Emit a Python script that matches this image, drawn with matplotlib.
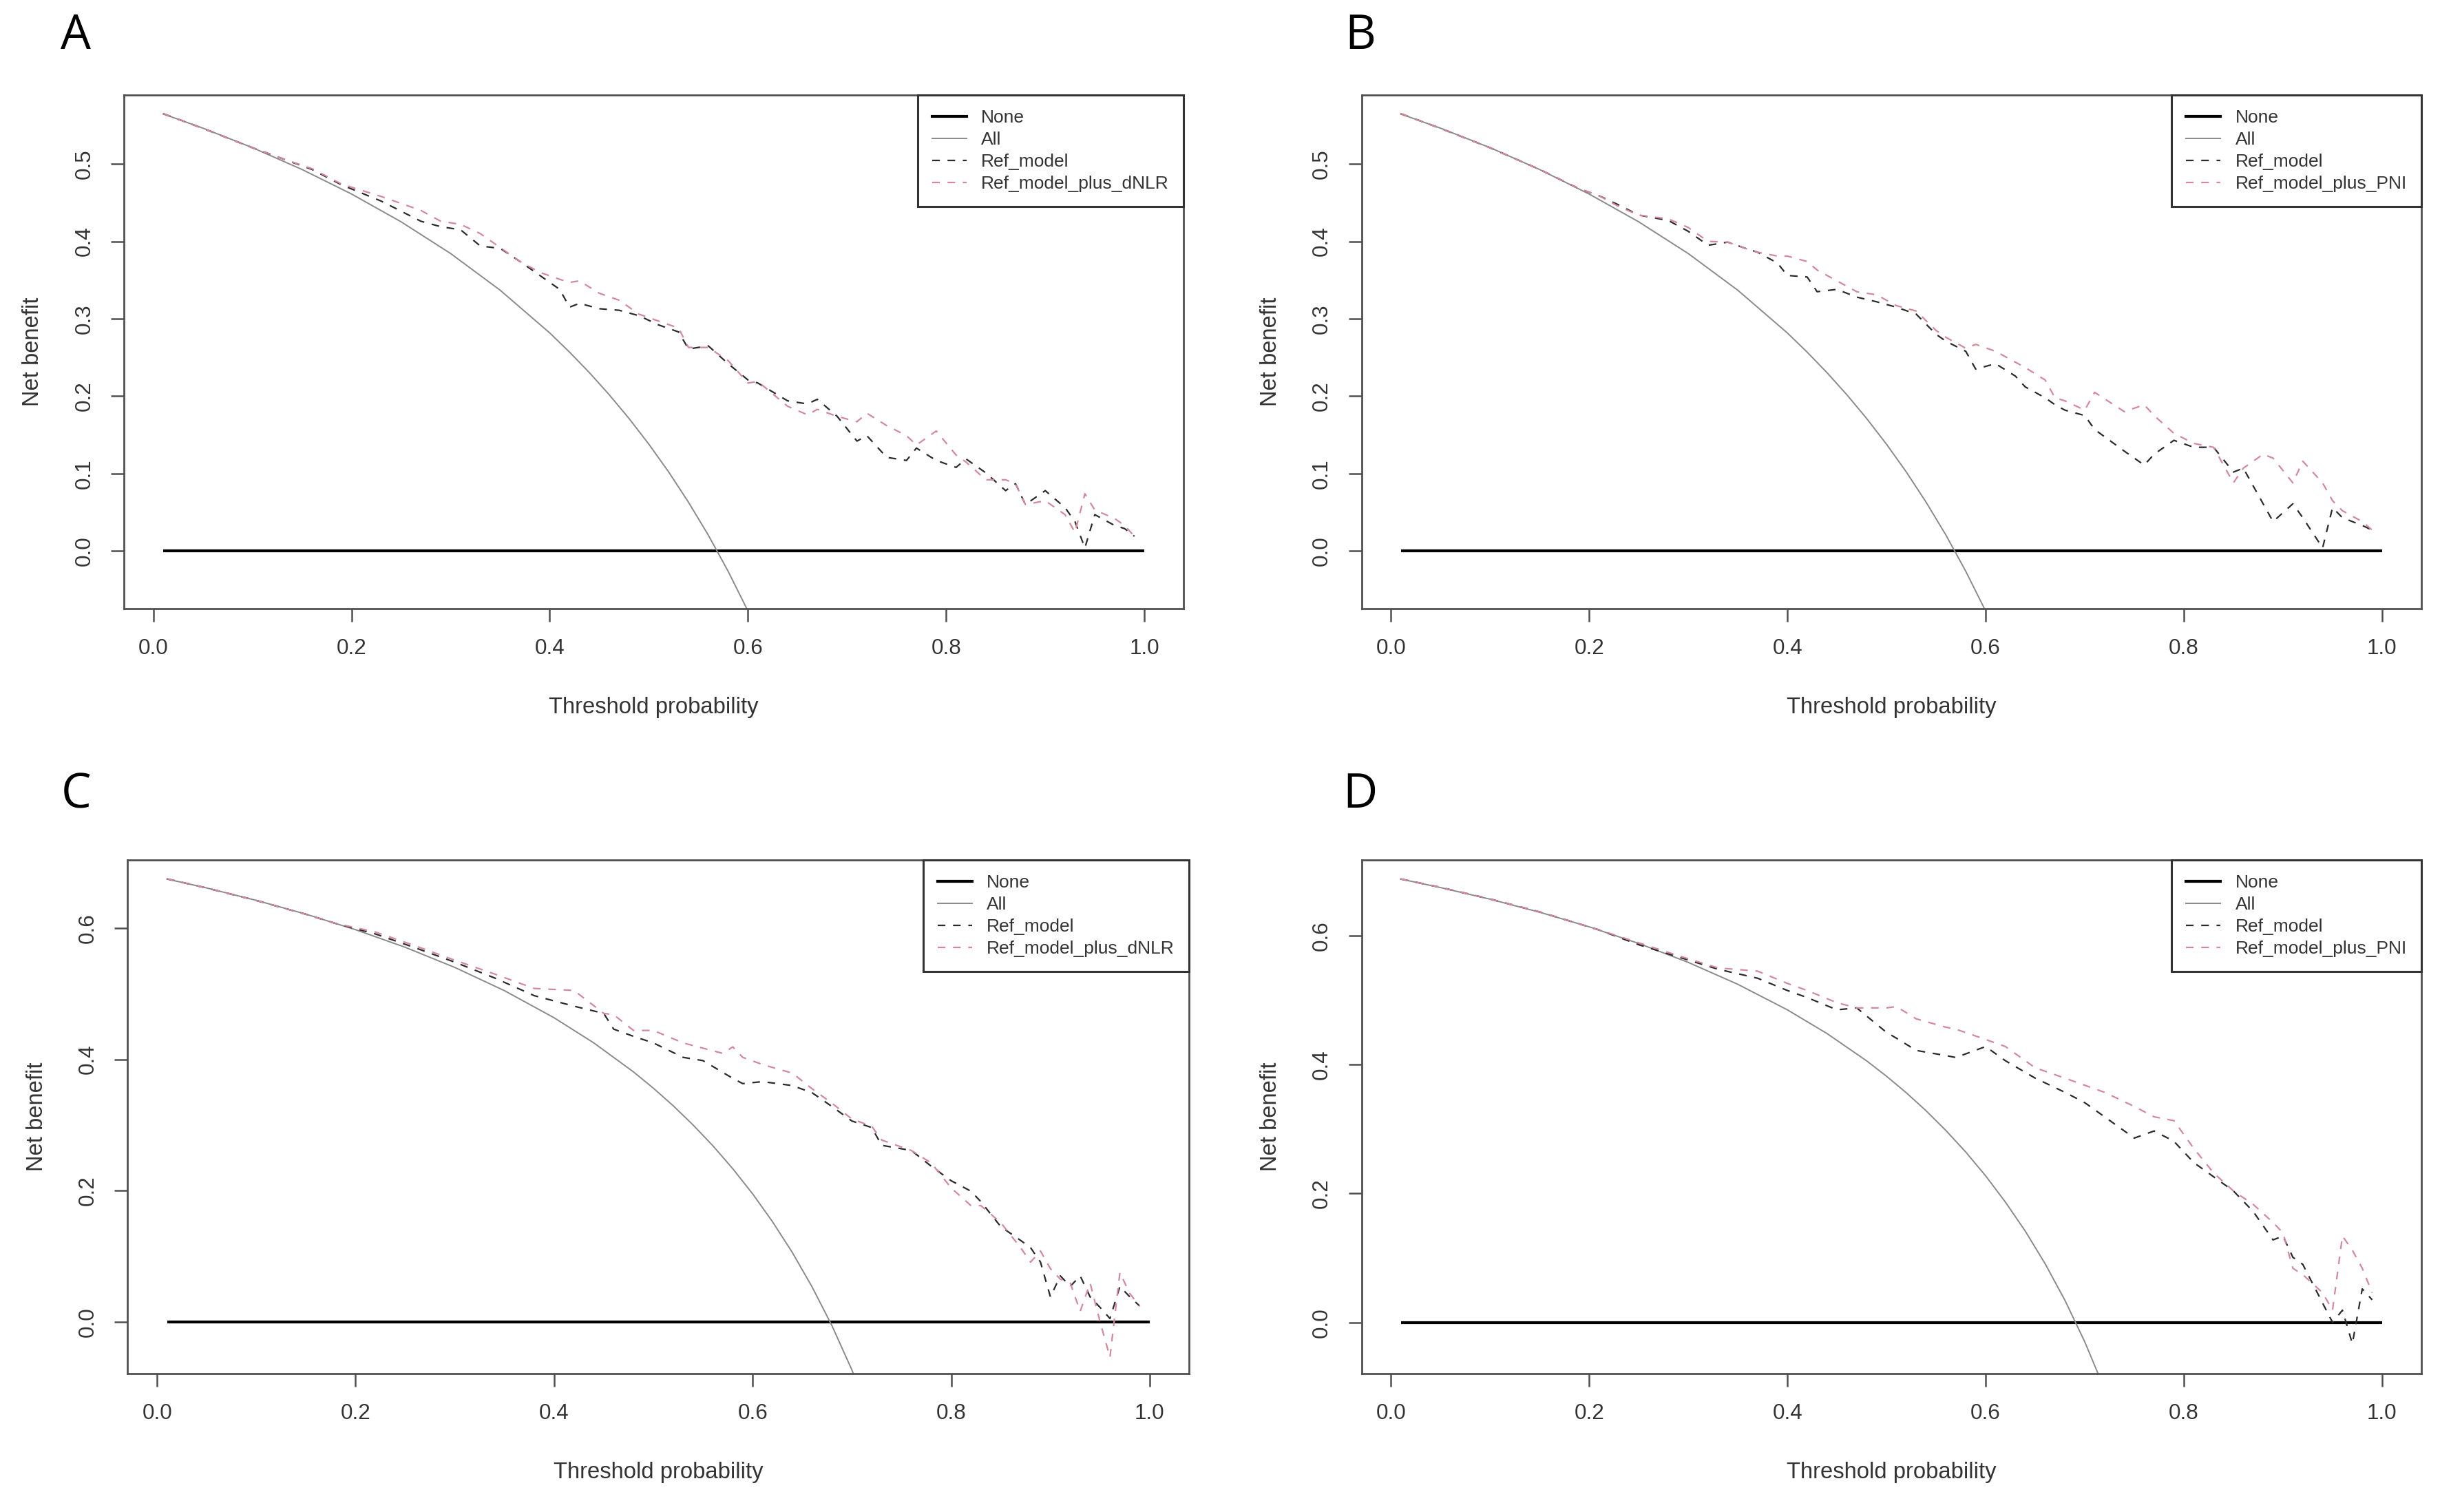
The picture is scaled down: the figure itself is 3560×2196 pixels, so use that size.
import matplotlib
matplotlib.use("Agg")
import matplotlib.pyplot as plt
from matplotlib.lines import Line2D

plt.rcParams['font.family'] = ['Liberation Sans', 'DejaVu Sans']

# ---------------- data ----------------
panel_letters = ["A", "B", "C", "D"]
legend_labels_A = ["None", "All", "Ref_model", "Ref_model_plus_dNLR"]
legend_labels_B = ["None", "All", "Ref_model", "Ref_model_plus_PNI"]
x_ticks = [0.0, 0.2, 0.4, 0.6, 0.8, 1.0]
y_ticks_top = [0.0, 0.1, 0.2, 0.3, 0.4, 0.5]
y_ticks_bottom = [0.0, 0.2, 0.4, 0.6]

none_x = [0.01, 1.0]
none_y = [0.0, 0.0]

# "All" strategy curves
all_x_AB = [0.01, 0.05, 0.10, 0.15, 0.20, 0.25, 0.30, 0.35, 0.40, 0.42, 0.44, 0.46,
            0.48, 0.50, 0.52, 0.54, 0.56, 0.58, 0.60, 0.62]
all_y_AB = [0.5646, 0.5463, 0.5211, 0.4929, 0.4612, 0.4253, 0.3843, 0.3369, 0.2817,
            0.2569, 0.2304, 0.2019, 0.1712, 0.1380, 0.1021, 0.0630, 0.0205, -0.0262,
            -0.0775, -0.1342]
all_x_CD = [0.01, 0.05, 0.10, 0.15, 0.20, 0.25, 0.30, 0.35, 0.40, 0.44, 0.48, 0.50,
            0.52, 0.54, 0.56, 0.58, 0.60, 0.62, 0.64, 0.66, 0.68, 0.70, 0.72]
all_y_C = [0.6747, 0.6611, 0.6422, 0.6212, 0.5975, 0.5707, 0.5400, 0.5046, 0.4633,
           0.4250, 0.3808, 0.3560, 0.3292, 0.3000, 0.2682, 0.2333, 0.1950, 0.1526,
           0.1056, 0.0529, -0.0062, -0.0733, -0.1500]
all_y_D = [0.6879, 0.6747, 0.6567, 0.6365, 0.6138, 0.5880, 0.5586, 0.5246, 0.4850,
           0.4482, 0.4058, 0.3820, 0.3563, 0.3283, 0.2977, 0.2643, 0.2275, 0.1866,
           0.1417, 0.0912, 0.0344, -0.0300, -0.1036]

# Panel A
thr_A = [0.01, 0.05, 0.10, 0.13, 0.16, 0.19, 0.23, 0.27, 0.29, 0.31,
         0.33, 0.35, 0.37, 0.39, 0.41, 0.42, 0.43, 0.45, 0.47, 0.49,
         0.51, 0.53, 0.54, 0.56, 0.58, 0.60, 0.61, 0.64, 0.66, 0.67,
         0.69, 0.71, 0.72, 0.74, 0.76, 0.77, 0.79, 0.81, 0.82, 0.84,
         0.86, 0.87, 0.88, 0.90, 0.92, 0.93, 0.94, 0.95, 0.97, 0.98, 0.99]
ref_A = [0.565, 0.546, 0.521, 0.507, 0.493, 0.473, 0.452, 0.426, 0.419, 0.415,
         0.394, 0.391, 0.374, 0.356, 0.338, 0.315, 0.320, 0.313, 0.311, 0.304,
         0.292, 0.283, 0.261, 0.265, 0.242, 0.221, 0.217, 0.194, 0.190, 0.196,
         0.174, 0.142, 0.149, 0.121, 0.117, 0.133, 0.117, 0.108, 0.119, 0.101,
         0.078, 0.087, 0.060, 0.078, 0.056, 0.038, 0.004, 0.047, 0.033, 0.029, 0.019]
plus_A = [0.565, 0.546, 0.521, 0.507, 0.494, 0.474, 0.458, 0.440, 0.426, 0.422,
          0.410, 0.392, 0.374, 0.360, 0.351, 0.347, 0.349, 0.333, 0.324, 0.306,
          0.297, 0.288, 0.263, 0.263, 0.246, 0.217, 0.219, 0.187, 0.176, 0.183,
          0.174, 0.167, 0.178, 0.162, 0.149, 0.137, 0.155, 0.124, 0.115, 0.092,
          0.092, 0.087, 0.060, 0.065, 0.047, 0.024, 0.074, 0.053, 0.042, 0.033, 0.019]

# Panel B
thr_B = [0.01, 0.05, 0.10, 0.15, 0.19, 0.21, 0.23, 0.25, 0.28, 0.30,
         0.32, 0.34, 0.36, 0.37, 0.39, 0.40, 0.42, 0.43, 0.45, 0.47,
         0.49, 0.51, 0.53, 0.55, 0.56, 0.58, 0.59, 0.61, 0.63, 0.64,
         0.66, 0.67, 0.68, 0.70, 0.71, 0.74, 0.76, 0.77, 0.79, 0.81,
         0.83, 0.85, 0.86, 0.88, 0.89, 0.91, 0.92, 0.94, 0.95, 0.96, 0.98, 0.99]
ref_B = [0.565, 0.546, 0.521, 0.493, 0.468, 0.459, 0.447, 0.434, 0.427, 0.413,
         0.395, 0.399, 0.390, 0.386, 0.372, 0.356, 0.354, 0.335, 0.338, 0.328,
         0.322, 0.315, 0.306, 0.280, 0.271, 0.258, 0.235, 0.242, 0.226, 0.212,
         0.198, 0.189, 0.182, 0.175, 0.157, 0.129, 0.111, 0.125, 0.143, 0.134,
         0.134, 0.102, 0.107, 0.061, 0.038, 0.061, 0.043, 0.004, 0.056, 0.043, 0.033, 0.027]
plus_B = [0.565, 0.546, 0.521, 0.493, 0.468, 0.459, 0.445, 0.434, 0.429, 0.418,
          0.400, 0.399, 0.390, 0.386, 0.381, 0.381, 0.374, 0.363, 0.349, 0.335,
          0.331, 0.317, 0.310, 0.285, 0.276, 0.262, 0.267, 0.258, 0.244, 0.237,
          0.221, 0.198, 0.194, 0.182, 0.205, 0.180, 0.189, 0.175, 0.152, 0.139,
          0.134, 0.088, 0.107, 0.125, 0.120, 0.088, 0.116, 0.088, 0.065, 0.052, 0.038, 0.027]

# Panel C
thr_C = [0.01, 0.05, 0.10, 0.15, 0.18, 0.22, 0.26, 0.30, 0.34, 0.38,
         0.42, 0.45, 0.46, 0.48, 0.50, 0.53, 0.55, 0.57, 0.58, 0.59,
         0.61, 0.64, 0.66, 0.68, 0.70, 0.72, 0.73, 0.76, 0.78, 0.80,
         0.82, 0.83, 0.85, 0.87, 0.88, 0.89, 0.90, 0.91, 0.92, 0.93,
         0.94, 0.95, 0.96, 0.97, 0.98, 0.99]
ref_C = [0.675, 0.661, 0.642, 0.621, 0.607, 0.591, 0.570, 0.548, 0.524, 0.497,
         0.481, 0.470, 0.446, 0.435, 0.425, 0.403, 0.398, 0.380, 0.371, 0.363,
         0.366, 0.360, 0.349, 0.328, 0.306, 0.296, 0.269, 0.261, 0.237, 0.215,
         0.199, 0.183, 0.145, 0.124, 0.113, 0.091, 0.038, 0.070, 0.054, 0.070,
         0.038, 0.022, 0.005, 0.054, 0.038, 0.024]
plus_C = [0.675, 0.661, 0.642, 0.621, 0.607, 0.594, 0.573, 0.551, 0.530, 0.508,
          0.505, 0.470, 0.468, 0.444, 0.444, 0.425, 0.417, 0.409, 0.419, 0.403,
          0.392, 0.379, 0.355, 0.333, 0.309, 0.298, 0.277, 0.261, 0.242, 0.204,
          0.177, 0.177, 0.151, 0.113, 0.091, 0.108, 0.081, 0.065, 0.059, 0.016,
          0.059, 0.000, -0.054, 0.075, 0.043, 0.024]

# Panel D
thr_D = [0.01, 0.05, 0.10, 0.15, 0.21, 0.25, 0.29, 0.33, 0.37, 0.40,
         0.42, 0.45, 0.47, 0.50, 0.51, 0.53, 0.56, 0.57, 0.60, 0.62,
         0.65, 0.68, 0.70, 0.72, 0.75, 0.77, 0.79, 0.81, 0.83, 0.85,
         0.87, 0.89, 0.90, 0.91, 0.92, 0.94, 0.95, 0.96, 0.97, 0.98, 0.99]
ref_D = [0.688, 0.675, 0.657, 0.637, 0.609, 0.586, 0.567, 0.548, 0.534, 0.515,
         0.504, 0.485, 0.488, 0.450, 0.441, 0.422, 0.414, 0.411, 0.428, 0.406,
         0.379, 0.357, 0.341, 0.319, 0.286, 0.297, 0.281, 0.248, 0.226, 0.204,
         0.172, 0.128, 0.134, 0.101, 0.090, 0.030, 0.000, 0.019, -0.033, 0.052, 0.035]
plus_D = [0.688, 0.675, 0.657, 0.637, 0.609, 0.589, 0.569, 0.550, 0.545, 0.526,
          0.515, 0.496, 0.488, 0.488, 0.490, 0.471, 0.458, 0.455, 0.439, 0.428,
          0.395, 0.379, 0.368, 0.357, 0.335, 0.319, 0.313, 0.270, 0.232, 0.204,
          0.183, 0.155, 0.139, 0.084, 0.074, 0.046, 0.019, 0.134, 0.112, 0.084, 0.046]

# ---------------- styling ----------------
C_NONE = "#000000"
C_ALL = "#8a8a8a"
C_REF = "#2a2a2a"
C_PLUS = "#d3899a"
C_FRAME = "#505050"
DASH = (0, (5.0, 5.0))

panels = [
    dict(letter="A", rect=[0.0506, 0.5974, 0.4323, 0.3398], thr=thr_A, ref=ref_A, plus=plus_A,
         ax_=all_x_AB, ay_=all_y_AB, yt=y_ticks_top, labels=legend_labels_A, lpos=(0.031, 0.976)),
    dict(letter="B", rect=[0.5555, 0.5974, 0.4324, 0.3398], thr=thr_B, ref=ref_B, plus=plus_B,
         ax_=all_x_AB, ay_=all_y_AB, yt=y_ticks_top, labels=legend_labels_B, lpos=(0.555, 0.976)),
    dict(letter="C", rect=[0.0521, 0.0915, 0.4330, 0.3397], thr=thr_C, ref=ref_C, plus=plus_C,
         ax_=all_x_CD, ay_=all_y_C, yt=y_ticks_bottom, labels=legend_labels_A, lpos=(0.031, 0.474)),
    dict(letter="D", rect=[0.5555, 0.0915, 0.4324, 0.3397], thr=thr_D, ref=ref_D, plus=plus_D,
         ax_=all_x_CD, ay_=all_y_D, yt=y_ticks_bottom, labels=legend_labels_B, lpos=(0.555, 0.474)),
]

fig = plt.figure(figsize=(17.8, 10.98), dpi=200)
fig.patch.set_facecolor("white")

for p in panels:
    ax = fig.add_axes(p["rect"])
    ax.plot(none_x, none_y, color=C_NONE, lw=1.5, solid_capstyle="butt")
    ax.plot(p["ax_"], p["ay_"], color=C_ALL, lw=0.7)
    ax.plot(p["thr"], p["ref"], color=C_REF, lw=0.8, linestyle=DASH)
    ax.plot(p["thr"], p["plus"], color=C_PLUS, lw=0.8, linestyle=DASH)

    # R-style axis ranges: data range extended by 4 %
    x_lo, x_hi = none_x[0], none_x[1]
    xr = x_hi - x_lo
    ax.set_xlim(x_lo - 0.04 * xr, x_hi + 0.04 * xr)
    y_lo, y_hi = -0.05, max(p["ay_"])
    yr = y_hi - y_lo
    ax.set_ylim(y_lo - 0.04 * yr, y_hi + 0.04 * yr)

    ax.set_xticks(x_ticks)
    ax.set_xticklabels([f"{v:.1f}" for v in x_ticks])
    ax.set_yticks(p["yt"])
    ax.set_yticklabels([f"{v:.1f}" for v in p["yt"]], rotation=90, va="center")

    ax.tick_params(axis="both", direction="out", length=6.8, width=0.9,
                   color=C_FRAME, labelsize=11.3, labelcolor="#333333", pad=8.5)
    for s in ax.spines.values():
        s.set_color(C_FRAME)
        s.set_linewidth(1.0)

    ax.set_xlabel("Threshold probability", fontsize=11.8, color="#333333", labelpad=20)
    ax.set_ylabel("Net benefit", fontsize=11.8, color="#333333", labelpad=16)

    handles = [
        Line2D([], [], color=C_NONE, lw=1.5),
        Line2D([], [], color=C_ALL, lw=0.7),
        Line2D([], [], color=C_REF, lw=0.8, linestyle=DASH),
        Line2D([], [], color=C_PLUS, lw=0.8, linestyle=DASH),
    ]
    leg = ax.legend(handles, p["labels"], loc="upper right", borderaxespad=0,
                    fontsize=9.5, frameon=True, fancybox=False, framealpha=1,
                    edgecolor="#333333", handlelength=1.9, handletextpad=0.8,
                    labelspacing=0.3, borderpad=0.8)
    leg.get_frame().set_linewidth(1.1)
    for t in leg.get_texts():
        t.set_color("#333333")

    fig.text(p["lpos"][0], p["lpos"][1], p["letter"], fontsize=25,
             family=["Open Sans", "DejaVu Sans"], ha="center", va="center", color="black")

fig.savefig("out.png", dpi=200, facecolor="white")
